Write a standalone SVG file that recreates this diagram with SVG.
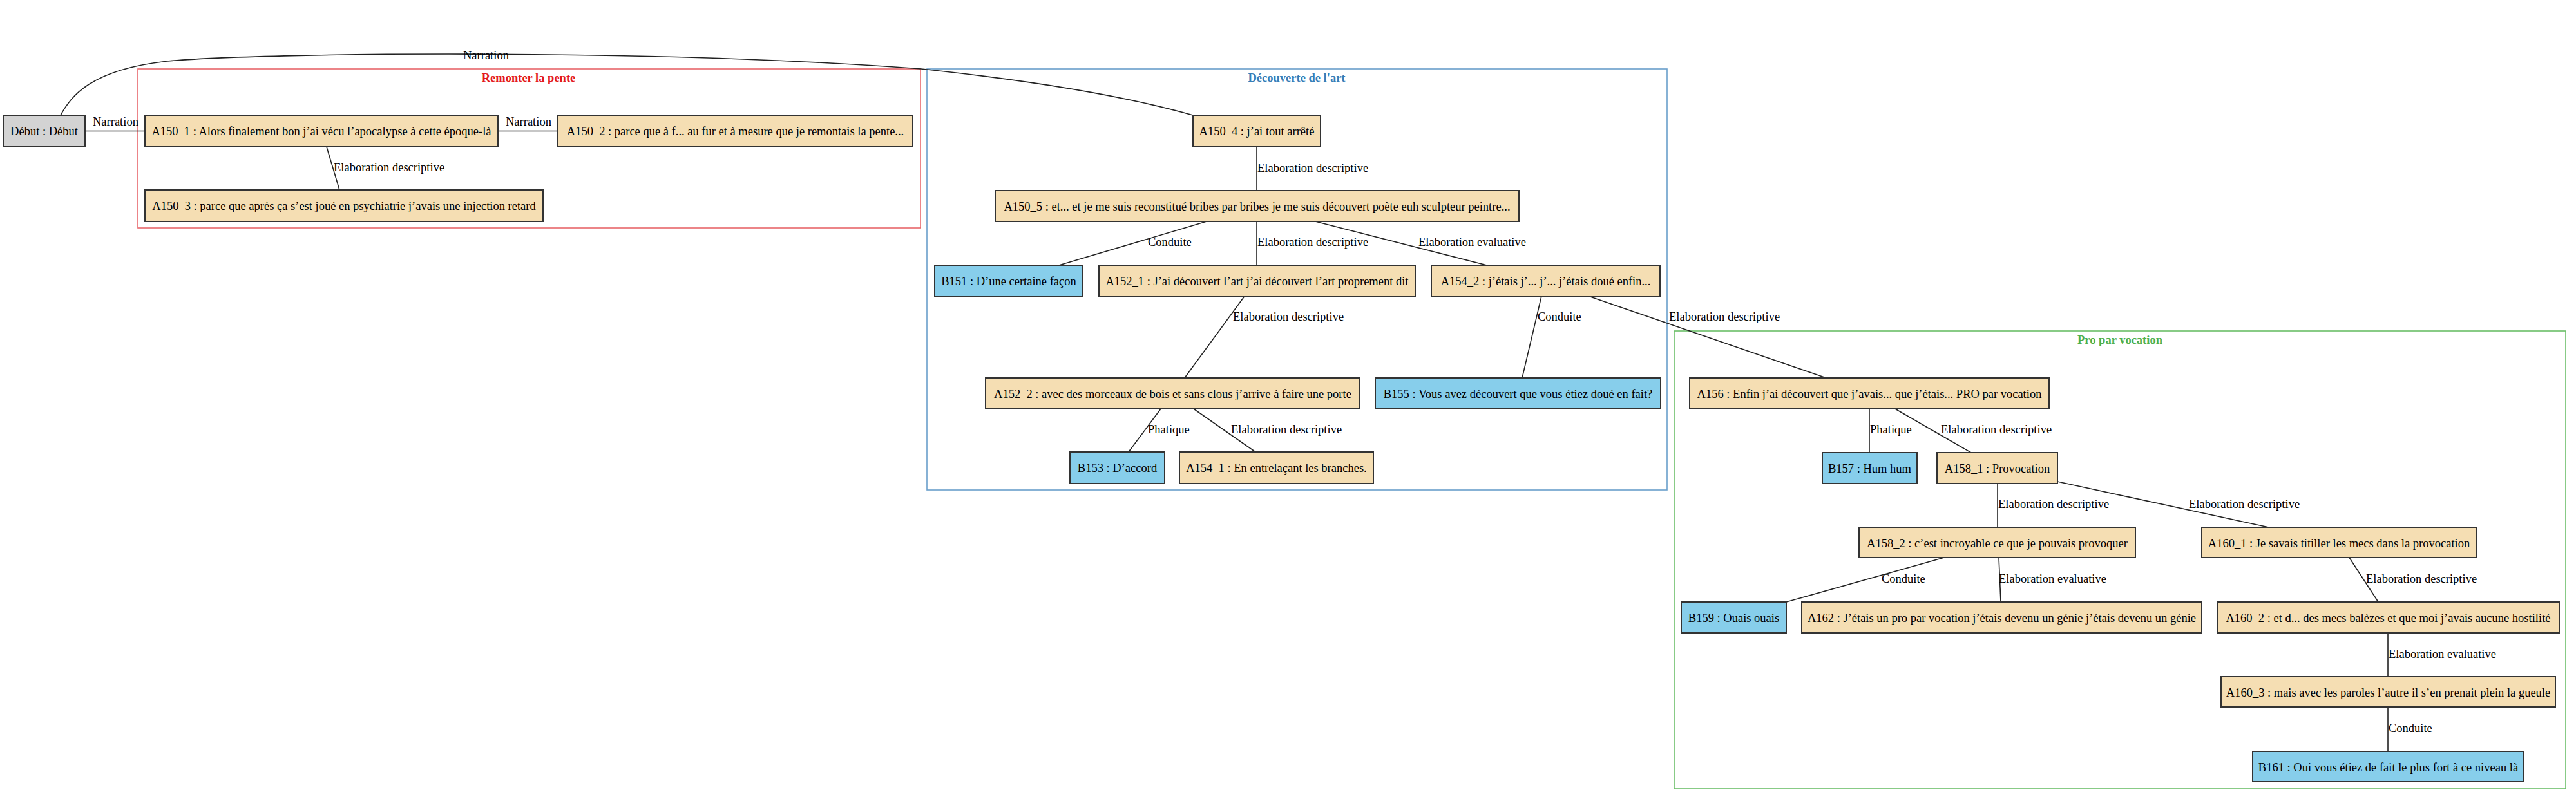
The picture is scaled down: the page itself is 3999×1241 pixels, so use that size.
<svg xmlns="http://www.w3.org/2000/svg" width="3999" height="1241" viewBox="0 0 3999 1241">
<style>
.bg{fill:#ffffff}
.n rect{stroke:#333333;stroke-width:2}
.a rect{fill:#F5DEB3}
.b rect{fill:#87CEEB}
.g rect{fill:#D3D3D3}
.n text{font-family:"Liberation Serif","Times New Roman",serif;font-size:18.5px;text-anchor:middle;fill:#000}
.e{stroke:#222;stroke-width:1.6;fill:none}
.lbl{font-family:"Liberation Serif","Times New Roman",serif;font-size:18.5px;fill:#000}
.cl{fill:none;stroke-width:1.6}
.ct{font-family:"Liberation Serif","Times New Roman",serif;font-size:18.5px;font-weight:bold;text-anchor:middle}
</style>
<rect class="bg" x="0" y="0" width="3999" height="1241"/>
<g id="clusters">
<g id="cluster_remonter"><rect class="cl" x="214" y="107" width="1215" height="247" stroke="#e8676b"/><text class="ct" x="820.5" y="127" fill="#e41a1c">Remonter la pente</text></g>
<g id="cluster_decouverte"><rect class="cl" x="1439" y="107" width="1149" height="654" stroke="#6a9fcb"/><text class="ct" x="2013" y="127" fill="#377eb8">Découverte de l'art</text></g>
<g id="cluster_pro"><rect class="cl" x="2599" y="514" width="1384" height="711" stroke="#6bbf68"/><text class="ct" x="3291" y="534" fill="#4daf4a">Pro par vocation</text></g>
</g>
<g id="edges">
<path class="e" d="M132,203.5 H225"/>
<path class="e" d="M773,203.5 H866"/>
<path class="e" d="M507,228 L527,295"/>
<path class="e" d="M94,179 C110,150 140,108 260,95 C400,82 1000,75 1430,107 C1600,125 1750,150 1852,179"/>
<path class="e" d="M1951,228 V296"/>
<path class="e" d="M1873,344 L1644,412"/>
<path class="e" d="M1951,344 V412"/>
<path class="e" d="M2042,344 L2308,412"/>
<path class="e" d="M1932,460 L1839,587"/>
<path class="e" d="M2393,460 L2363,587"/>
<path class="e" d="M2466,460 L2835,587"/>
<path class="e" d="M1802,635 L1752,702"/>
<path class="e" d="M1853,635 L1949,702"/>
<path class="e" d="M2902,635 V703"/>
<path class="e" d="M2942,635 L3060,703"/>
<path class="e" d="M3101,751 V819"/>
<path class="e" d="M3194,748 L3522,819"/>
<path class="e" d="M3018,866 L2773,935"/>
<path class="e" d="M3103,866 L3106,935"/>
<path class="e" d="M3647,866 L3692,935"/>
<path class="e" d="M3707,983 V1051"/>
<path class="e" d="M3707,1098 V1167"/>
<text class="lbl" x="144" y="195">Narration</text>
<text class="lbl" x="785" y="195">Narration</text>
<text class="lbl" x="719" y="92">Narration</text>
<text class="lbl" x="518" y="266">Elaboration descriptive</text>
<text class="lbl" x="1952" y="267">Elaboration descriptive</text>
<text class="lbl" x="1782" y="382">Conduite</text>
<text class="lbl" x="1952" y="382">Elaboration descriptive</text>
<text class="lbl" x="2202" y="382">Elaboration evaluative</text>
<text class="lbl" x="1914" y="498">Elaboration descriptive</text>
<text class="lbl" x="2387" y="498">Conduite</text>
<text class="lbl" x="2591" y="498">Elaboration descriptive</text>
<text class="lbl" x="1782" y="673">Phatique</text>
<text class="lbl" x="1911" y="673">Elaboration descriptive</text>
<text class="lbl" x="2903" y="673">Phatique</text>
<text class="lbl" x="3013" y="673">Elaboration descriptive</text>
<text class="lbl" x="3102" y="789">Elaboration descriptive</text>
<text class="lbl" x="3398" y="789">Elaboration descriptive</text>
<text class="lbl" x="2921" y="905">Conduite</text>
<text class="lbl" x="3103" y="905">Elaboration evaluative</text>
<text class="lbl" x="3673" y="905">Elaboration descriptive</text>
<text class="lbl" x="3708" y="1022">Elaboration evaluative</text>
<text class="lbl" x="3708" y="1137">Conduite</text>
</g>
<g id="debut" class="n g"><rect x="5" y="179" width="127" height="49"/><text x="68.5" y="210">Début : Début</text></g>
<g id="A150_1" class="n a"><rect x="225" y="179" width="548" height="49"/><text x="499" y="210">A150_1 : Alors finalement bon j’ai vécu l’apocalypse à cette époque-là</text></g>
<g id="A150_2" class="n a"><rect x="866" y="179" width="551" height="49"/><text x="1141.5" y="210">A150_2 : parce que à f... au fur et à mesure que je remontais la pente...</text></g>
<g id="A150_3" class="n a"><rect x="225" y="295" width="618" height="49"/><text x="534" y="326">A150_3 : parce que après ça s’est joué en psychiatrie j’avais une injection retard</text></g>
<g id="A150_4" class="n a"><rect x="1852" y="179" width="198" height="49"/><text x="1951" y="210">A150_4 : j’ai tout arrêté</text></g>
<g id="A150_5" class="n a"><rect x="1545" y="296" width="813" height="48"/><text x="1951.5" y="326.5">A150_5 : et... et je me suis reconstitué bribes par bribes je me suis découvert poète euh sculpteur peintre...</text></g>
<g id="B151" class="n b"><rect x="1451" y="412" width="230" height="48"/><text x="1566" y="442.5">B151 : D’une certaine façon</text></g>
<g id="A152_1" class="n a"><rect x="1706" y="412" width="491" height="48"/><text x="1951.5" y="442.5">A152_1 : J’ai découvert l’art j’ai découvert l’art proprement dit</text></g>
<g id="A154_2" class="n a"><rect x="2222" y="412" width="355" height="48"/><text x="2399.5" y="442.5">A154_2 : j’étais j’... j’... j’étais doué enfin...</text></g>
<g id="A152_2" class="n a"><rect x="1530" y="587" width="581" height="48"/><text x="1820.5" y="617.5">A152_2 : avec des morceaux de bois et sans clous j’arrive à faire une porte</text></g>
<g id="B155" class="n b"><rect x="2135" y="587" width="443" height="48"/><text x="2356.5" y="617.5">B155 : Vous avez découvert que vous étiez doué en fait?</text></g>
<g id="B153" class="n b"><rect x="1661" y="702" width="147" height="49"/><text x="1734.5" y="733">B153 : D’accord</text></g>
<g id="A154_1" class="n a"><rect x="1831" y="702" width="301" height="49"/><text x="1981.5" y="733">A154_1 : En entrelaçant les branches.</text></g>
<g id="A156" class="n a"><rect x="2623" y="587" width="558" height="48"/><text x="2902" y="617.5">A156 : Enfin j’ai découvert que j’avais... que j’étais... PRO par vocation</text></g>
<g id="B157" class="n b"><rect x="2829" y="703" width="147" height="48"/><text x="2902.5" y="733.5">B157 : Hum hum</text></g>
<g id="A158_1" class="n a"><rect x="3007" y="703" width="187" height="48"/><text x="3100.5" y="733.5">A158_1 : Provocation</text></g>
<g id="A158_2" class="n a"><rect x="2886" y="819" width="429" height="47"/><text x="3100.5" y="849.5">A158_2 : c’est incroyable ce que je pouvais provoquer</text></g>
<g id="A160_1" class="n a"><rect x="3418" y="819" width="426" height="47"/><text x="3631" y="849.5">A160_1 : Je savais titiller les mecs dans la provocation</text></g>
<g id="B159" class="n b"><rect x="2610" y="935" width="163" height="48"/><text x="2691.5" y="965.5">B159 : Ouais ouais</text></g>
<g id="A162" class="n a"><rect x="2797" y="935" width="621" height="48"/><text x="3107.5" y="965.5">A162 : J’étais un pro par vocation j’étais devenu un génie j’étais devenu un génie</text></g>
<g id="A160_2" class="n a"><rect x="3442" y="935" width="531" height="48"/><text x="3707.5" y="965.5">A160_2 : et d... des mecs balèzes et que moi j’avais aucune hostilité</text></g>
<g id="A160_3" class="n a"><rect x="3448" y="1051" width="519" height="47"/><text x="3707.5" y="1081.5">A160_3 : mais avec les paroles l’autre il s’en prenait plein la gueule</text></g>
<g id="B161" class="n b"><rect x="3497" y="1167" width="421" height="47"/><text x="3707.5" y="1197.5">B161 : Oui vous étiez de fait le plus fort à ce niveau là</text></g>
</svg>
